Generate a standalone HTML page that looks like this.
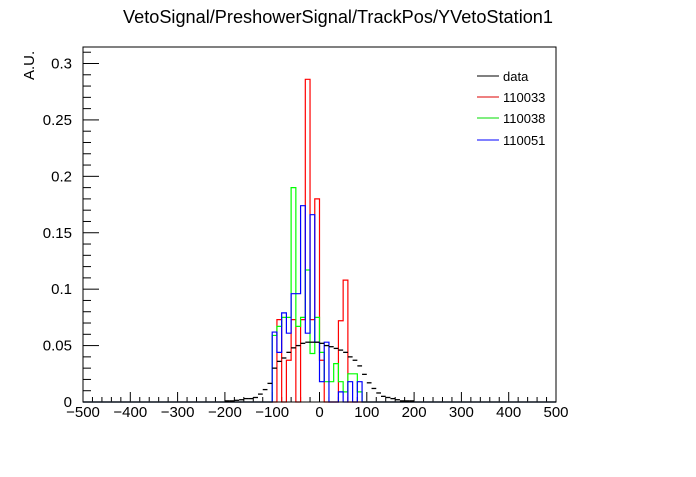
<!DOCTYPE html>
<html><head><meta charset="utf-8"><style>
body{margin:0;background:#fff;}
svg text{font-family:"Liberation Sans",sans-serif;}
</style></head><body>
<svg id="c" width="696" height="472" xmlns="http://www.w3.org/2000/svg">
<rect width="696" height="472" fill="#fff"/>
<text x="338" y="23" font-size="18" text-anchor="middle" textLength="430" lengthAdjust="spacingAndGlyphs">VetoSignal/PreshowerSignal/TrackPos/YVetoStation1</text>
<text transform="translate(34,80) rotate(-90)" font-size="15">A.U.</text>
<g id="axes"></g>
<g id="marks"></g>
<rect x="83" y="47" width="473" height="355" fill="none" stroke="#000" stroke-width="1"/>
<g>
<line x1="477" y1="76" x2="499" y2="76" stroke="#000"/>
<text x="503" y="81" font-size="13">data</text>
<line x1="477" y1="97" x2="499" y2="97" stroke="#d00"/>
<text x="503" y="102" font-size="13">110033</text>
<line x1="477" y1="118" x2="499" y2="118" stroke="#0d0"/>
<text x="503" y="123" font-size="13">110038</text>
<line x1="477" y1="140" x2="499" y2="140" stroke="#00f"/>
<text x="503" y="145" font-size="13">110051</text>
</g>
</svg>
<script>
// bin low edges (width 10) and values
const binLow = [-100,-90,-80,-70,-60,-50,-40,-30,-20,-10,0,10,20,30,40,50,60,70,80];
const red   = [0,0.073,0,0.037,0.073,0,0.073,0.286,0.073,0.180,0.037,0,0,0,0.072,0.108,0,0,0];
const green = [0.059,0.067,0.075,0.075,0.190,0.067,0.075,0.117,0.043,0.075,0.044,0.018,0.018,0.034,0.018,0.009,0.025,0.025,0.009];
const blue  = [0.062,0.044,0.079,0.061,0.096,0.096,0.174,0.061,0.166,0.053,0.018,0.053,0,0,0.009,0,0.018,0,0.018];
const dataLow = [-200,-190,-180,-170,-160,-150,-140,-130,-120,-110,-100,-90,-80,-70,-60,-50,-40,-30,-20,-10,0,10,20,30,40,50,60,70,80,90,100,110,120,130,140,150,160,170,180,190];
const dataVal = [0.001,0.001,0.0015,0.002,0.003,0.003,0.004,0.007,0.011,0.0165,0.030,0.036,0.039,0.044,0.048,0.050,0.052,0.053,0.053,0.053,0.052,0.050,0.049,0.0475,0.046,0.044,0.040,0.037,0.032,0.0245,0.017,0.012,0.008,0.005,0.004,0.003,0.002,0.001,0.001,0.001];
const xTicks = [-500,-400,-300,-200,-100,0,100,200,300,400,500];
const yTicks = [0,0.05,0.1,0.15,0.2,0.25,0.3];
const yTickLabels = ["0","0.05","0.1","0.15","0.2","0.25","0.3"];
const BW = 10;

const NS="http://www.w3.org/2000/svg";
const X = v => 83 + (v + 500) * 473 / 1000;
const Y = v => 402 - v * 338.5 / 0.3;
const axes = document.getElementById('axes');
const marks = document.getElementById('marks');
function mk(tag, attrs, parent){const e=document.createElementNS(NS,tag);for(const k in attrs)e.setAttribute(k,attrs[k]);parent.appendChild(e);return e;}

for(let v=-500; v<=500; v+=20){
  const major = v%100===0;
  const t = mk('line',{x1:X(v),x2:X(v),y1:402,y2:402-(major?10:5),stroke:'#000'},axes);
  
  
}
xTicks.forEach(v=>{
  const t = mk('text',{x:X(v),y:417,'font-size':15,'text-anchor':'middle'},axes);
  t.textContent = v<0 ? '\u2212'+(-v) : String(v);
  
  
});
for(let i=0;i<=31;i++){
  const v=i*0.01; const major = i%5===0;
  const t = mk('line',{x1:83,x2:83+(major?16:8),y1:Y(v),y2:Y(v),stroke:'#000'},axes);
  
  
}
yTicks.forEach((v,i)=>{
  const t = mk('text',{x:72,y:Y(v)+5,'font-size':15,'text-anchor':'end'},axes);
  t.textContent = yTickLabels[i];
  
  
});

function stepPath(vals){
  let d = 'M'+X(-500)+','+Y(0)+' L'+X(binLow[0])+','+Y(0);
  binLow.forEach((b,i)=>{ d += ' L'+X(b)+','+Y(vals[i])+' L'+X(b+BW)+','+Y(vals[i]); });
  d += ' L'+X(binLow[binLow.length-1]+BW)+','+Y(0)+' L'+X(500)+','+Y(0);
  return d;
}
const series = [['red',red,'#f00'],['green',green,'#0f0'],['blue',blue,'#00f']];
series.forEach(([n,vals,col])=>{
  const p = mk('path',{d:stepPath(vals),fill:'none',stroke:col,'stroke-width':1.2},marks);
  
  
});
dataLow.forEach((b,i)=>{
  const l = mk('line',{x1:X(b),x2:X(b+BW),y1:Y(dataVal[i]),y2:Y(dataVal[i]),stroke:'#000','stroke-width':1.3},marks);
  
  
});
</script>
</body></html>
